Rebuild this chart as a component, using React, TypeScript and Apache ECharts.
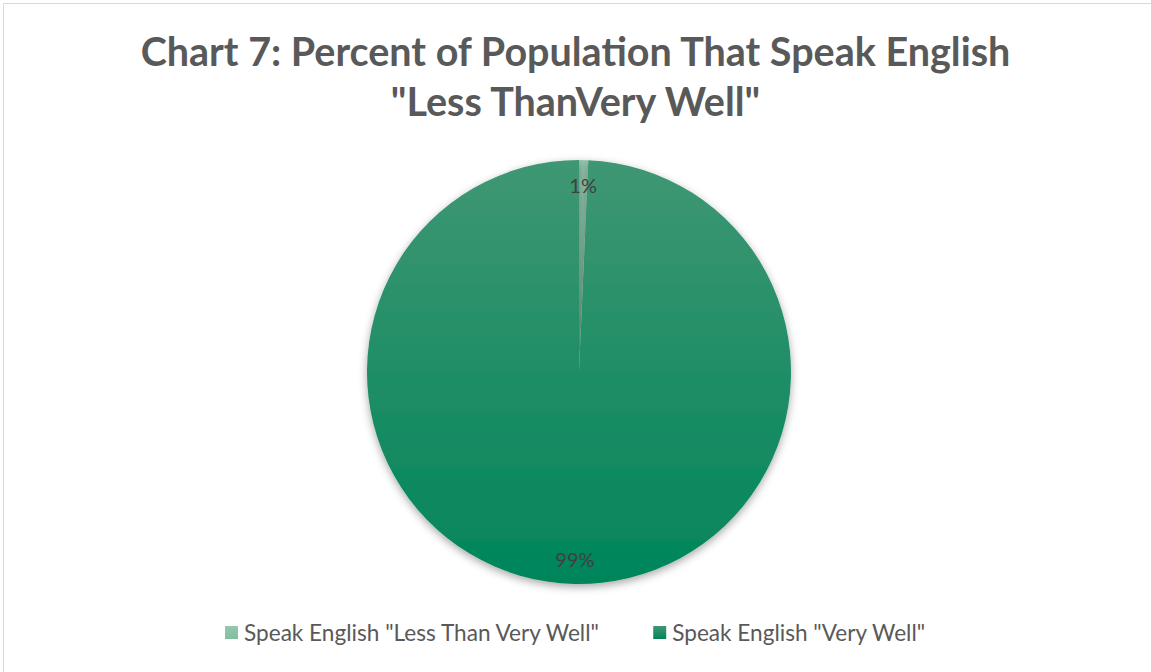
import React, { useEffect, useRef } from "react";
import * as echarts from "echarts";

const titleLines = ["Chart 7: Percent of Population That Speak English", "\"Less ThanVery Well\""];
const categories = ["Speak English \"Less Than Very Well\"", "Speak English \"Very Well\""];
const values = [0.7, 99.3];
const topColors = ["#95c7ae", "#3f9773"];
const bottomColors = ["#7fbf9e", "#00855a"];

export default function App() {
  const ref = useRef<HTMLDivElement>(null);
  useEffect(() => {
    document.body.style.margin = "0";
    const chart = echarts.init(ref.current!, null, { renderer: "svg" });
    const grad = (i: number) =>
      new echarts.graphic.LinearGradient(0, 0, 0, 1, [
        { offset: 0, color: topColors[i] },
        { offset: 1, color: bottomColors[i] },
      ], false);
    const center = [579, 372];
    chart.setOption({
      animation: false,
      backgroundColor: "#ffffff",
      title: {
        text: titleLines.join("\n"),
        left: "center",
        top: 20,
        textStyle: { fontFamily: "Lato", fontWeight: "bold", fontSize: 39.5, color: "#595959", lineHeight: 50 },
      },
      graphic: [
        { type: "rect", shape: { x: 3.5, y: 3.5, width: 1160, height: 680 }, style: { fill: "none", stroke: "#d9d9d9", lineWidth: 1 } },
      ],
      legend: {
        bottom: 23,
        left: "center",
        itemWidth: 13,
        itemHeight: 13,
        itemGap: 52,
        icon: "rect",
        textStyle: { fontFamily: "Lato", fontSize: 22.6, color: "#595959", padding: [0, 0, 0, 1] },
        data: categories,
      },
      series: [
        {
          type: "pie",
          center,
          radius: [0, 212],
          startAngle: 90,
          clockwise: true,
          label: { show: false },
          labelLine: { show: false },
          emphasis: { disabled: true },
          itemStyle: { shadowBlur: 8, shadowColor: "rgba(0,0,0,0.35)", shadowOffsetY: 3 },
          data: categories.map((name, i) => ({ name, value: values[i], itemStyle: { color: grad(i) } })),
        },
        {
          type: "pie",
          center,
          radius: [156, 212],
          startAngle: 90,
          clockwise: true,
          silent: true,
          legendHoverLink: false,
          label: {
            show: true,
            position: "inside",
            formatter: (p: any) => Math.round(p.percent) + "%",
            fontFamily: "Lato",
            fontSize: 20,
            color: "#404040",
          },
          labelLine: { show: false },
          itemStyle: { color: "rgba(0,0,0,0)" },
          data: categories.map((name, i) => ({ name: name + " ", value: values[i] })),
        },
      ],
    });
    return () => chart.dispose();
  }, []);
  return <div ref={ref} style={{ width: 1151, height: 672 }} />;
}
